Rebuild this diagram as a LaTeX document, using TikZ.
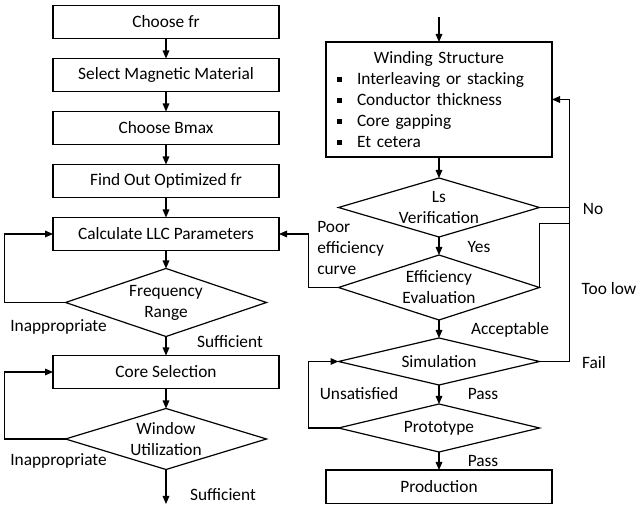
\documentclass[tikz,border=0pt]{standalone}
\usepackage{fontspec}
\setmainfont{Carlito}
\usetikzlibrary{arrows.meta,positioning,shapes.geometric}
\newcommand{\sqbullet}{\makebox[15pt][l]{\rule[0.3ex]{3.5pt}{3.5pt}}}

\begin{document}
\begin{tikzpicture}[
  x=0.75pt, y=-0.75pt,
  font=\fontsize{13}{15.75}\selectfont,
  box/.style={draw, line width=0.9pt, align=center, minimum width=169.5pt, minimum height=24.75pt, inner sep=0pt, outer sep=0pt},
  dec/.style={draw, diamond, shape aspect=3, line width=0.9pt, align=center, minimum width=150.75pt, inner sep=-6pt, outer sep=0pt},
  lbl/.style={inner sep=0pt, align=left},
  arr/.style={-{Triangle[length=6pt,width=5pt]}, line width=0.8pt},
  lin/.style={line width=0.8pt}
]
\useasboundingbox (0,0) rectangle (637,505);
% left column
\node[box] (fr) at (166,22) {Choose fr};
\node[box, below=15pt of fr] (mat) {Select Magnetic Material};
\node[box, below=15pt of mat] (bmax) {Choose Bmax};
\node[box, below=15pt of bmax] (optfr) {Find Out Optimized fr};
\node[box, below=15pt of optfr] (llc) {Calculate LLC Parameters};
\node[dec, below=13.5pt of llc, minimum height=51pt] (freq) {Frequency\\Range};
\node[box, below=14.25pt of freq] (core) {Core Selection};
\node[dec, below=15pt of core, minimum height=45.75pt] (win) {Window\\Utilization};
\coordinate (winout) at (166,504);
% right column
\node[box, text width=153pt, align=left, minimum height=86.25pt] (wind) at (439,99.5) {\hfill Winding Structure\hfill\null\\
\sqbullet Interleaving or stacking\\
\sqbullet Conductor thickness\\
\sqbullet Core gapping\\
\sqbullet Et cetera};
\coordinate[above=18.75pt of wind.north] (windin);
\node[dec, below=15.75pt of wind, minimum height=44.25pt] (ls) {Ls\\Verification};
\node[dec, below=13.5pt of ls, minimum height=48.75pt] (eff) {Efficiency\\Evaluation};
\node[dec, below=13.5pt of eff, minimum height=35.25pt] (sim) {Simulation};
\node[dec, below=14.25pt of sim, minimum height=36pt] (proto) {Prototype};
\node[box, below=13.5pt of proto, minimum height=25pt] (prod) {Production};
% labels
\node[lbl] (inap1) at (58.5,327) {Inappropriate};
\node[lbl] (suff1) at (230,342) {Sufficient};
\node[lbl] (inap2) at (58.5,461) {Inappropriate};
\node[lbl] (suff2) at (223,495) {Sufficient};
\node[lbl, anchor=west] (poor) at (317,248) {Poor\\efficiency\\curve};
\node[lbl] (no) at (593,209) {No};
\node[lbl] (yes) at (479,247) {Yes};
\node[lbl] (toolow) at (609,289) {Too low};
\node[lbl] (accept) at (510,330) {Acceptable};
\node[lbl] (fail) at (594,363) {Fail};
\node[lbl] (pass1) at (483,394) {Pass};
\node[lbl] (unsat) at (359,394) {Unsatisfied};
\node[lbl] (pass2) at (483,461) {Pass};

\draw[arr] (fr) -- (mat);
\draw[arr] (mat) -- (bmax);
\draw[arr] (bmax) -- (optfr);
\draw[arr] (optfr) -- (llc);
\draw[arr] (llc) -- (freq);
\draw[arr] (freq) -- (core);
\draw[arr] (core) -- (win);
\draw[arr] (win.south) -- (winout);
\draw[arr] (freq.west) -- ++(-61,0) |- (llc.west);
\draw[arr] (win.west) -- ++(-61,0) |- (core.west);

\draw[arr] (windin) -- (wind);
\draw[arr] (wind) -- (ls);
\draw[arr] (ls) -- (eff);
\draw[arr] (eff) -- (sim);
\draw[arr] (sim) -- (proto);
\draw[arr] (proto) -- (prod);
\draw[arr] (sim.east) -- ++(30,0) coordinate (rt) |- (wind.east);
\draw[lin] (ls.east) -- (ls.east -| rt);
\draw[lin] (eff.east) -- ++(0,-64) coordinate (tl) -- (tl -| rt);
\draw[arr] (eff.west) -- ++(-30,0) |- (llc.east);
\draw[arr] (proto.west) -- ++(-30,0) |- (sim.west);
\end{tikzpicture}
\end{document}
